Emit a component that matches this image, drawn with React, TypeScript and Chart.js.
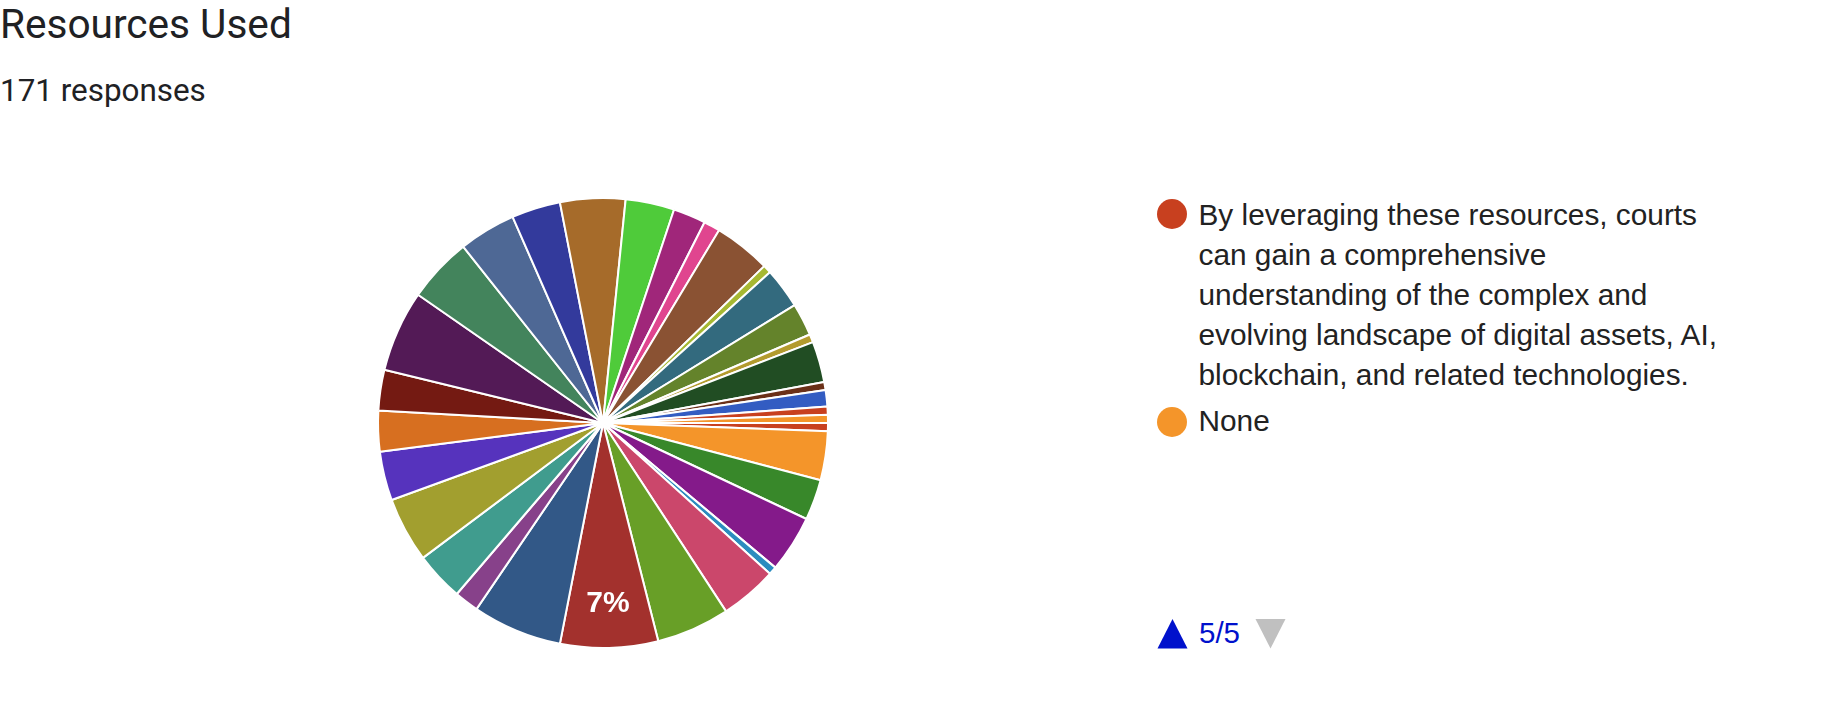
import React, { useEffect, useRef } from "react";
import { Chart, registerables } from "chart.js";

Chart.register(...registerables);

// ---- Data (slice order = answer order, drawn clockwise from 3 o'clock) ----
const answerLabels: string[] = [
  "Option 1", "Option 2", "Option 3", "Option 4", "Option 5", "Option 6",
  "Option 7", "Option 8", "Option 9", "Option 10", "Option 11", "Option 12",
  "Option 13", "Option 14", "Option 15", "Option 16", "Option 17", "Option 18",
  "Option 19", "Option 20", "Option 21", "Option 22", "Option 23", "Option 24",
  "Option 25", "Option 26", "Option 27", "Option 28", "Option 29", "Option 30",
  "Option 31",
  "By leveraging these resources, courts can gain a comprehensive understanding of the complex and evolving landscape of digital assets, AI, blockchain, and related technologies.",
  "None",
];

const answerCounts: number[] = [
  1, 6, 5, 7, 1, 7, 9, 12, 11, 3, 6, 8, 6, 5, 5, 10, 8, 7, 6,
  8, 6, 4, 2, 7, 1, 5, 4, 1, 5, 1, 2, 1, 1,
];

const sliceColors: string[] = [
  "#c8401f", "#f4952a", "#38882a", "#841a8a", "#2b8cbf", "#cb476b",
  "#689f27", "#a3312d", "#325887", "#87418a", "#409c8e", "#a29f2f",
  "#5633bd", "#d76f20", "#741a12", "#531a56", "#43845c", "#4e6895",
  "#333a9c", "#a66b2a", "#4fcb3a", "#a0267a", "#e0458f", "#8a5233",
  "#a6b832", "#336a7e", "#64832b", "#b39b2e", "#214d23", "#6b3018",
  "#335cc2", "#c8401f", "#f4952a",
];

const questionTitle = "Resources Used";
const responseCountText = "171 responses";
const legendPageText = "5/5";
const legendPageStart = 31; // first answer shown on the visible legend page

const sliceLabelPlugin = {
  id: "sliceLabels",
  afterDatasetsDraw(chart: any) {
    const meta = chart.getDatasetMeta(0);
    const data = chart.data.datasets[0].data as number[];
    const total = data.reduce((a, b) => a + b, 0);
    const ctx = chart.ctx;
    ctx.save();
    ctx.fillStyle = "#ffffff";
    ctx.font = "bold 30px 'Liberation Sans', Arial, sans-serif";
    ctx.textAlign = "center";
    ctx.textBaseline = "middle";
    meta.data.forEach((arc: any, i: number) => {
      const frac = data[i] / total;
      if (frac < 0.07) return;
      const p = arc.getProps(["x", "y", "startAngle", "endAngle", "outerRadius"], true);
      const mid = (p.startAngle + p.endAngle) / 2;
      const r = p.outerRadius * 0.8;
      ctx.fillText(Math.round(frac * 100) + "%", p.x + Math.cos(mid) * r, p.y + Math.sin(mid) * r + 1);
    });
    ctx.restore();
  },
};

export default function App() {
  const canvasRef = useRef<HTMLCanvasElement | null>(null);

  useEffect(() => {
    if (!canvasRef.current) return;
    const chart = new Chart(canvasRef.current, {
      type: "pie",
      data: {
        labels: answerLabels,
        datasets: [
          {
            data: answerCounts,
            backgroundColor: sliceColors,
            borderColor: "#ffffff",
            borderWidth: 2,
            radius: 225,
          } as any,
        ],
      },
      options: {
        animation: false,
        responsive: false,
        maintainAspectRatio: false,
        rotation: 90,
        layout: { padding: 0 },
        plugins: {
          legend: { display: false },
          tooltip: { enabled: false },
        },
      },
      plugins: [sliceLabelPlugin],
    });
    return () => chart.destroy();
  }, []);

  const legendItems = answerLabels.slice(legendPageStart).map((label, k) => ({
    label,
    color: sliceColors[legendPageStart + k],
  }));

  const legendFont = "'Liberation Sans', Arial, sans-serif";
  const legendTops = [194.6, 401.3];
  const dotTops = [199.3, 406.7];

  return (
    <div
      style={{
        position: "absolute",
        left: 0,
        top: 0,
        width: 1838,
        height: 718,
        background: "#ffffff",
        overflow: "hidden",
      }}
    >
      <div
        style={{
          position: "absolute",
          left: 0,
          top: 3.5,
          fontFamily: "Roboto, sans-serif",
          fontSize: 40.6,
          lineHeight: "40.6px",
          color: "#202124",
          whiteSpace: "nowrap",
        }}
      >
        {questionTitle}
      </div>
      <div
        style={{
          position: "absolute",
          left: 0,
          top: 75.3,
          fontFamily: "Roboto, sans-serif",
          fontSize: 31.4,
          lineHeight: "31.4px",
          color: "#202124",
          whiteSpace: "nowrap",
        }}
      >
        {responseCountText}
      </div>

      <canvas
        ref={canvasRef}
        width={460}
        height={460}
        style={{ position: "absolute", left: 373, top: 193, width: 460, height: 460 }}
      />

      {/* legend (last page) */}
      {legendItems.map((item, k) => (
        <React.Fragment key={k}>
          <div
            style={{
              position: "absolute",
              left: 1157.3,
              top: dotTops[k],
              width: 30,
              height: 30,
              borderRadius: 15,
              background: item.color,
            }}
          />
          <div
            style={{
              position: "absolute",
              left: 1198.5,
              top: legendTops[k],
              width: 535,
              fontFamily: legendFont,
              fontSize: 29.8,
              lineHeight: "40px",
              color: "#222222",
            }}
          >
            {item.label}
          </div>
        </React.Fragment>
      ))}

      {/* legend pager */}
      <svg style={{ position: "absolute", left: 1157, top: 619 }} width={31} height={30}>
        <polygon points="15.5,0 30.5,29.5 0.5,29.5" fill="#0011cc" />
      </svg>
      <div
        style={{
          position: "absolute",
          left: 1199,
          top: 614,
          fontFamily: legendFont,
          fontSize: 29.5,
          lineHeight: "38px",
          color: "#0011cc",
          whiteSpace: "nowrap",
        }}
      >
        {legendPageText}
      </div>
      <svg style={{ position: "absolute", left: 1255, top: 619 }} width={31} height={30}>
        <polygon points="0.5,0 30.5,0 15.5,29.5" fill="#c0c0c0" />
      </svg>
    </div>
  );
}
